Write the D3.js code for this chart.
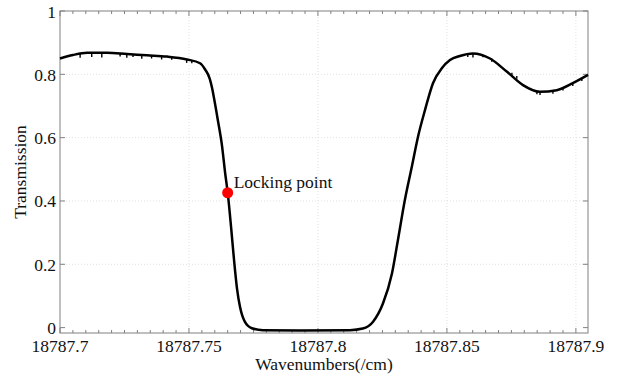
<!DOCTYPE html>
<html>
<head>
<meta charset="utf-8">
<script src="https://cdn.jsdelivr.net/npm/d3@7"></script>
<style>
  body { margin: 0; background: #fff; }
</style>
</head>
<body>
<div id="chart"></div>
<script>
(function(d3) {
    'use strict';

    // transmission curve
    var wavenumbers = [
        18787.7000, 18787.7050, 18787.7105, 18787.7182, 18787.7260, 18787.7337,
        18787.7415, 18787.7492, 18787.7543, 18787.7562, 18787.7581, 18787.7590,
        18787.7597, 18787.7612, 18787.7628, 18787.7640, 18787.7651, 18787.7663,
        18787.7674, 18787.7686, 18787.7698, 18787.7717, 18787.7744, 18787.7787,
        18787.7930, 18787.8124, 18787.8174, 18787.8213, 18787.8252, 18787.8287,
        18787.8310, 18787.8337, 18787.8364, 18787.8388, 18787.8415, 18787.8446,
        18787.8481, 18787.8512, 18787.8550, 18787.8601, 18787.8667, 18787.8733,
        18787.8795, 18787.8860, 18787.8926, 18787.8988, 18787.9047
    ];
    var transmission = [
        0.850, 0.861, 0.868, 0.868, 0.864, 0.860,
        0.856, 0.847, 0.835, 0.816, 0.785, 0.755,
        0.725, 0.655, 0.575, 0.490, 0.420, 0.320,
        0.220, 0.125, 0.065, 0.018, -0.002, -0.008,
        -0.009, -0.008, -0.003, 0.018, 0.076, 0.171,
        0.276, 0.403, 0.508, 0.603, 0.687, 0.772,
        0.820, 0.845, 0.858, 0.866, 0.850, 0.808,
        0.766, 0.745, 0.750, 0.772, 0.798
    ];

    // small downward noise spikes on the plateaus
    var spikeWavenumbers = [
        18787.7078, 18787.7123, 18787.7162, 18787.7233, 18787.7259, 18787.7283,
        18787.7317, 18787.7355, 18787.7394, 18787.7433, 18787.7491, 18787.7511,
        18787.8581, 18787.8601, 18787.8640, 18787.8674, 18787.8752, 18787.8771,
        18787.8849, 18787.8861, 18787.8911, 18787.8950, 18787.8988, 18787.9023
    ];
    var spikeTop = [
        0.864, 0.867, 0.868, 0.866, 0.864, 0.863,
        0.861, 0.859, 0.857, 0.855, 0.847, 0.843,
        0.865, 0.866, 0.862, 0.850, 0.805, 0.795,
        0.748, 0.745, 0.748, 0.758, 0.772, 0.788
    ];
    var spikeBottom = [
        0.852, 0.855, 0.853, 0.856, 0.852, 0.855,
        0.849, 0.850, 0.847, 0.846, 0.836, 0.835,
        0.855, 0.853, 0.854, 0.840, 0.795, 0.786,
        0.737, 0.735, 0.739, 0.749, 0.763, 0.779
    ];

    var lockWavenumber = 18787.7650,
        lockTransmission = 0.426,
        lockLabel = 'Locking point';

    var xTicks = [18787.7, 18787.75, 18787.8, 18787.85, 18787.9];
    var xTickLabels = ['18787.7', '18787.75', '18787.8', '18787.85', '18787.9'];
    var yTicks = [0, 0.2, 0.4, 0.6, 0.8, 1];
    var yTickLabels = ['0', '0.2', '0.4', '0.6', '0.8', '1'];

    var width = 618,
        height = 374,
        margin = {top: 11, right: 30, bottom: 41, left: 60},
        innerW = width - margin.left - margin.right,
        innerH = height - margin.top - margin.bottom;

    var axisColor = '#808080',
        gridColor = '#d9d9d9',
        fontFamily = "'Liberation Serif', 'Times New Roman', Times, serif",
        fontSize = '17.5px';

    var x = d3.scaleLinear()
        .domain([18787.7, 18787.9047])
        .range([0, innerW]);

    var y = d3.scaleLinear()
        .domain([-0.017, 1])
        .range([innerH, 0]);

    var svg = d3.select('#chart').append('svg')
        .attr('width', width)
        .attr('height', height)
        .style('display', 'block')
        .append('g')
        .attr('transform', 'translate(' + margin.left + ',' + margin.top + ')');

    // dotted grid
    svg.selectAll('.xgrid')
        .data(xTicks.slice(1))
        .enter()
        .append('line')
        .attr('x1', function(d) { return x(d); })
        .attr('x2', function(d) { return x(d); })
        .attr('y1', 0)
        .attr('y2', innerH)
        .attr('stroke', gridColor)
        .attr('stroke-width', 0.8)
        .attr('stroke-dasharray', '1,2');

    svg.selectAll('.ygrid')
        .data(yTicks.slice(1, -1))
        .enter()
        .append('line')
        .attr('x1', 0)
        .attr('x2', innerW)
        .attr('y1', function(d) { return y(d); })
        .attr('y2', function(d) { return y(d); })
        .attr('stroke', gridColor)
        .attr('stroke-width', 0.8)
        .attr('stroke-dasharray', '1,2');

    // minor ticks every 0.005
    var minor = d3.range(0, 41).map(function(i) { return 18787.7 + i * 0.005; });

    var ticks = svg.append('g')
        .attr('stroke', axisColor)
        .attr('stroke-width', 1);

    minor.forEach(function(d, i) {
        var len = (i % 10 === 0) ? 5 : 3;
        ticks.append('line')
            .attr('x1', x(d)).attr('x2', x(d))
            .attr('y1', innerH).attr('y2', innerH - len);
        ticks.append('line')
            .attr('x1', x(d)).attr('x2', x(d))
            .attr('y1', 0).attr('y2', len);
    });

    yTicks.forEach(function(d) {
        ticks.append('line')
            .attr('x1', 0).attr('x2', 5)
            .attr('y1', y(d)).attr('y2', y(d));
        ticks.append('line')
            .attr('x1', innerW).attr('x2', innerW - 5)
            .attr('y1', y(d)).attr('y2', y(d));
    });

    // frame
    svg.append('rect')
        .attr('width', innerW)
        .attr('height', innerH)
        .attr('fill', 'none')
        .attr('stroke', axisColor)
        .attr('stroke-width', 1);

    var labels = svg.append('g')
        .style('font-family', fontFamily)
        .style('font-size', fontSize)
        .attr('fill', '#111');

    // tick labels
    labels.selectAll('.xlabel')
        .data(xTicks)
        .enter()
        .append('text')
        .attr('x', function(d) { return x(d); })
        .attr('y', innerH + 19)
        .attr('text-anchor', 'middle')
        .text(function(d, i) { return xTickLabels[i]; });

    labels.selectAll('.ylabel')
        .data(yTicks)
        .enter()
        .append('text')
        .attr('x', -4)
        .attr('y', function(d) { return y(d) + 6.5; })
        .attr('text-anchor', 'end')
        .text(function(d, i) { return yTickLabels[i]; });

    // axis titles
    labels.append('text')
        .attr('x', innerW / 2)
        .attr('y', innerH + 37)
        .attr('text-anchor', 'middle')
        .text('Wavenumbers(/cm)');

    labels.append('text')
        .attr('transform', 'translate(' + (-34) + ',' + (innerH / 2) + ') rotate(-90)')
        .attr('text-anchor', 'middle')
        .text('Transmission');

    // curve
    var points = wavenumbers.map(function(w, i) { return [w, transmission[i]]; });

    var line = d3.line()
        .x(function(d) { return x(d[0]); })
        .y(function(d) { return y(d[1]); })
        .curve(d3.curveMonotoneX);

    svg.append('path')
        .datum(points)
        .attr('d', line)
        .attr('fill', 'none')
        .attr('stroke', '#000')
        .attr('stroke-width', 2.5)
        .attr('stroke-linejoin', 'round');

    svg.selectAll('.spike')
        .data(spikeWavenumbers)
        .enter()
        .append('line')
        .attr('x1', function(d) { return x(d); })
        .attr('x2', function(d) { return x(d); })
        .attr('y1', function(d, i) { return y(spikeTop[i]); })
        .attr('y2', function(d, i) { return y(spikeBottom[i]); })
        .attr('stroke', '#000')
        .attr('stroke-width', 1.4);

    // locking point
    svg.append('circle')
        .attr('cx', x(lockWavenumber))
        .attr('cy', y(lockTransmission))
        .attr('r', 5.5)
        .attr('fill', '#ff0000');

    labels.append('text')
        .attr('x', x(lockWavenumber) + 6)
        .attr('y', y(lockTransmission) - 5)
        .text(lockLabel);

})(window.d3);
</script>
</body>
</html>
